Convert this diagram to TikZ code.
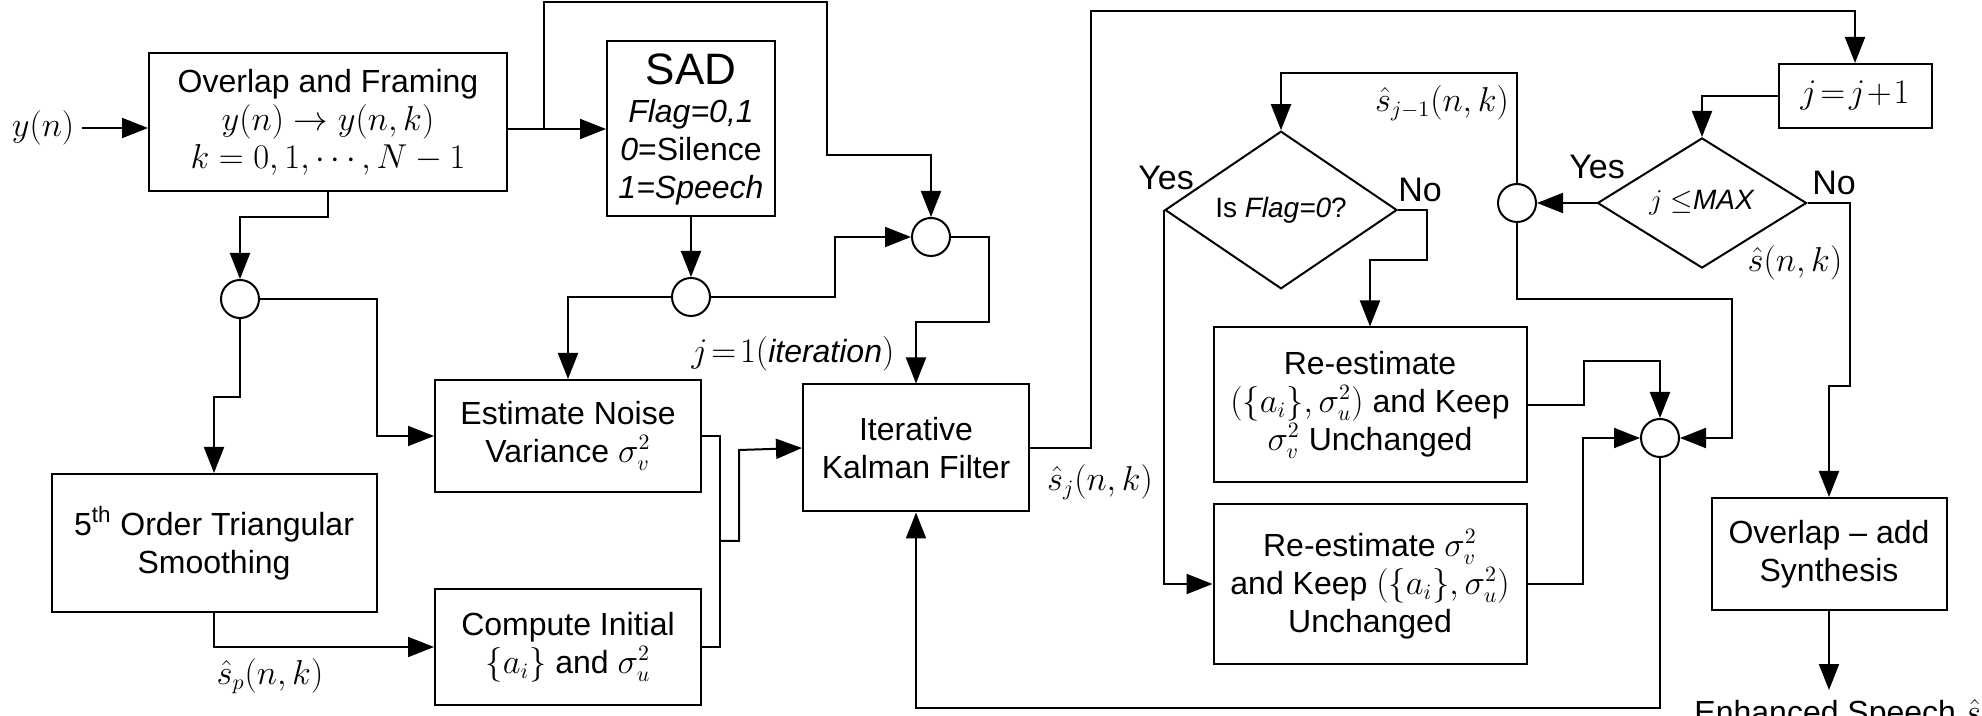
\documentclass[tikz,border=0pt]{standalone}
\usepackage{fontspec}
\setmainfont{Liberation Sans}
\usetikzlibrary{arrows.meta,shapes.geometric}

\begin{document}
\begin{tikzpicture}[%
        % one unit is one pixel of the reference
        x=0.5pt,y=-0.5pt,
        >={Triangle[length=13pt,width=10pt]},
        every node/.style={font=\fontsize{16}{19}\selectfont},
        box/.style={draw,line width=1pt,align=center,inner sep=2pt},
        sum/.style={draw,circle,line width=1pt,minimum size=19pt,inner sep=0pt},
        dec/.style={draw,diamond,line width=1pt,inner sep=0pt,font=\fontsize{14}{16}\selectfont},
        every path/.style={line width=1pt}
        ]

        \useasboundingbox (0,0) rectangle (1982,716);

        % boxes
        \node[box,minimum width=179pt,minimum height=69pt] (frame) at (328,122) {Overlap and Framing\\$y(n)\rightarrow y(n,k)$\\$k=0,1,\cdots,N-1$};
        \node[box,minimum width=84pt,minimum height=87.5pt,inner sep=1pt] (sad) at (691,129) {{\fontsize{22}{24}\selectfont SAD}\\\textit{Flag=0,1}\\\textit{0}=Silence\\\textit{1=Speech}};
        \node[box,minimum width=162.5pt,minimum height=69pt] (tri) at (214,543) {5\textsuperscript{th} Order Triangular\\Smoothing};
        \node[box,minimum width=133pt,minimum height=56pt] (est) at (568,436) {Estimate Noise\\Variance $\sigma_v^2$};
        \node[box,minimum width=133pt,minimum height=58pt] (cmp) at (568,647) {Compute Initial\\$\{a_i\}$ and $\sigma_u^2$};
        \node[box,minimum width=113pt,minimum height=63.5pt] (kal) at (916,448) {Iterative\\Kalman Filter};
        \node[box,minimum width=76.5pt,minimum height=32pt] (jbox) at (1855,96) {$j\!=\!j\!+\!1$};
        \node[box,minimum width=156.5pt,minimum height=77.5pt] (boxA) at (1370,405) {Re-estimate\\$(\{a_i\},\sigma_u^2)$ and Keep\\$\sigma_v^2$\ Unchanged};
        \node[box,minimum width=156.5pt,minimum height=80pt] (boxB) at (1370,584) {Re-estimate $\sigma_v^2$\\and Keep $(\{a_i\},\sigma_u^2)$\\Unchanged};
        \node[box,minimum width=117.5pt,minimum height=56pt] (ola) at (1829,554) {Overlap -- add\\Synthesis};

        % junctions and decisions
        \node[sum] (c1) at (240,299) {};
        \node[sum] (c2) at (691,297) {};
        \node[sum] (c3) at (931,237) {};
        \node[sum] (c4) at (1517,203) {};
        \node[sum] (c5) at (1660,438) {};
        \node[dec,minimum width=116pt,minimum height=46pt] (dec1) at (1281,210) {Is \textit{Flag=0}?};
        \node[dec,minimum width=104.5pt,minimum height=55pt] (dec2) at (1702,203) {$j\leq$\textit{MAX}};

        % in and out
        \node (yin) at (43,128) {$y(n)$};
        \node[anchor=north] (out) at (1860,690) {Enhanced Speech $\hat{s}(n)$};
        \coordinate (br) at (544,129);

        % left part
        \draw[->] (yin) -- (frame.west |- yin);
        \draw[->] (frame.east |- sad) -- (sad.west);
        \draw[->] (br) |- (827,2) -- (827,155) -| (c3.north);
        \draw[->] (frame.south) -- (328,217) -| (c1.north);
        \draw[->] (c1.east) -| (377,436) -- (est.west);
        \draw[->] (c1.south) -- (240,397) -| (tri.north);
        \draw[->] (tri.south) |- (cmp.west);
        \draw[->] (sad.south) -- (c2.north);
        \draw[->] (c2.west) -| (est.north);
        \draw[->] (c2.east) -| (835,237) -- (c3.west);
        \draw (est.east) -| (720,541);
        \draw (cmp.east) -| (720,541);
        \draw[->] (720,541) -| (739,450) -- (kal.west);
        \draw[->] (c3.east) -| (989,322) -| (kal.north);

        % right part
        \draw[->] (kal.east) -| (1091,11) -| (jbox.north);
        \draw[->] (jbox.west) -| (dec2.north);
        \draw[->] (dec2.west) -- (c4.east);
        \draw[->] (c4.north) -- (1517,73) -| (dec1.north);
        \draw[->] (dec1.west) |- (boxB.west);
        \draw[->] (dec1.east) -| (1427,260) -| (boxA.north);
        \draw[->] (boxA.east) -| (1584,361) -| (c5.north);
        \draw[->] (boxB.east) -| (1583,438) -- (c5.west);
        \draw[->] (c4.south) |- (1732,299) -- (1732,438) -- (c5.east);
        \draw[->] (c5.south) |- (916,708) -- (kal.south);
        \draw[->] (dec2.east) -| (1850,386) -| (ola.north);
        \draw[->] (ola.south) -- (ola.south |- out.north);

        % labels
        \node at (270,676) {$\hat{s}_p(n,k)$};
        \node[anchor=east] at (902,354) {$j\!=\!1(\textit{iteration})$};
        \node at (1100,482) {$\hat{s}_j(n,k)$};
        \node at (1442,103) {$\hat{s}_{j-1}(n,k)$};
        \node at (1795,263) {$\hat{s}(n,k)$};
        \node[font=\fontsize{17}{19}\selectfont] at (1166,178) {Yes};
        \node[font=\fontsize{17}{19}\selectfont] at (1420,190) {No};
        \node[font=\fontsize{17}{19}\selectfont] at (1597,167) {Yes};
        \node[font=\fontsize{17}{19}\selectfont] at (1834,183) {No};

    \end{tikzpicture}
\end{document}
